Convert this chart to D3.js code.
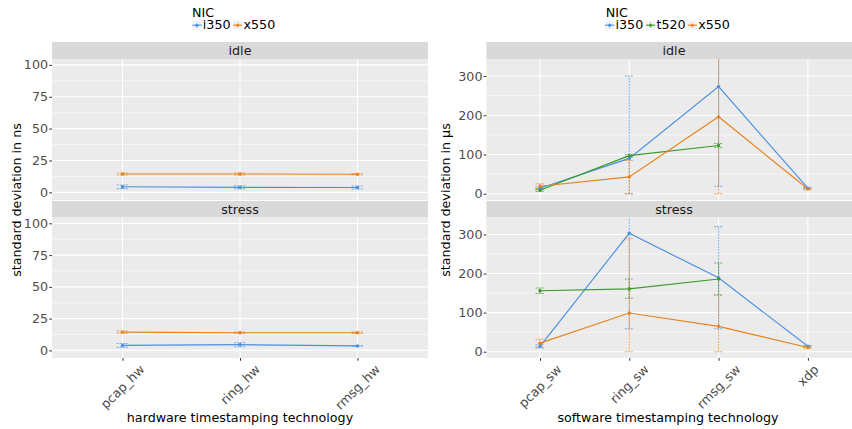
<!DOCTYPE html>
<html><head><meta charset="utf-8">
<script src="https://cdn.jsdelivr.net/npm/d3@7"></script>
<style>body{margin:0;background:#fff} text{font-family:"DejaVu Sans",sans-serif}</style>
</head><body><svg id="c" width="852" height="429"></svg>
<script>
const hwCategories = ["pcap_hw","ring_hw","rmsg_hw"];
const swCategories = ["pcap_sw","ring_sw","rmsg_sw","xdp"];
const facets = ["idle","stress"];
const hwNics = ["i350","x550"];
const swNics = ["i350","t520","x550"];
const hwYTicks = [0,25,50,75,100];
const swYTicks = [0,100,200,300];

// hardware timestamping (ns): mean, lower, upper
const hwIdleI350Mean = [4.4, 3.9, 3.8];
const hwIdleI350Lo   = [2.9, 2.6, 2.6];
const hwIdleI350Hi   = [5.8, 5.2, 5.0];
const hwIdleX550Mean = [14.4, 14.4, 14.2];
const hwIdleX550Lo   = [13.6, 13.6, 13.6];
const hwIdleX550Hi   = [15.2, 15.2, 14.8];
const hwStressI350Mean = [3.9, 4.5, 3.5];
const hwStressI350Lo   = [2.4, 2.8, 3.2];
const hwStressI350Hi   = [5.4, 6.0, 3.8];
const hwStressX550Mean = [14.4, 13.9, 13.9];
const hwStressX550Lo   = [13.6, 13.4, 13.4];
const hwStressX550Hi   = [15.2, 14.4, 14.4];

// software timestamping (µs): mean, lower, upper (null = no data)
const swIdleI350Mean = [14, 90, 273, 14];
const swIdleI350Lo   = [11, 0, 19, 12];
const swIdleI350Hi   = [17, 300, 527, 16];
const swIdleT520Mean = [9, 97, 123, null];
const swIdleT520Lo   = [6, 94, 118, null];
const swIdleT520Hi   = [12, 100, 128, null];
const swIdleX550Mean = [19, 43, 196, 12];
const swIdleX550Lo   = [13, 0, 0, 10];
const swIdleX550Hi   = [25, 85, 400, 14];
const swStressI350Mean = [14, 303, 189, 14];
const swStressI350Lo   = [10, 59, 59, 12];
const swStressI350Hi   = [18, 547, 320, 16];
const swStressT520Mean = [156, 161, 186, null];
const swStressT520Lo   = [149, 137, 145, null];
const swStressT520Hi   = [163, 186, 227, null];
const swStressX550Mean = [22, 99, 65, 11];
const swStressX550Lo   = [12, 0, 0, 9];
const swStressX550Hi   = [32, 289, 145, 13];

const colors = {i350:"#4A90E2", t520:"#3C9A2C", x550:"#E8821E"};

const hwSeries = {
  idle: {i350:[hwIdleI350Mean,hwIdleI350Lo,hwIdleI350Hi], x550:[hwIdleX550Mean,hwIdleX550Lo,hwIdleX550Hi]},
  stress: {i350:[hwStressI350Mean,hwStressI350Lo,hwStressI350Hi], x550:[hwStressX550Mean,hwStressX550Lo,hwStressX550Hi]}
};
const swSeries = {
  idle: {i350:[swIdleI350Mean,swIdleI350Lo,swIdleI350Hi], t520:[swIdleT520Mean,swIdleT520Lo,swIdleT520Hi], x550:[swIdleX550Mean,swIdleX550Lo,swIdleX550Hi]},
  stress: {i350:[swStressI350Mean,swStressI350Lo,swStressI350Hi], t520:[swStressT520Mean,swStressT520Lo,swStressT520Hi], x550:[swStressX550Mean,swStressX550Lo,swStressX550Hi]}
};

const FS = 12.7;
const svg = d3.select("#c");
const stripRows = [{top:42, bottom:59}, {top:201, bottom:217.5}];
const panelRows = [{top:59, bottom:200}, {top:217.5, bottom:358}];

function drawChart(cfg){
  const {x0, x1, cats, nics, series, yDomain, yTicks, yMinor, clipId} = cfg;
  const n = cats.length;
  const unit = cfg.unit;
  const x = d3.scalePoint().domain(cats).range([x0 + 0.6*unit, x0 + 0.6*unit + (n-1)*unit]);
  const capW = 0.1*unit;
  facets.forEach((f, fi) => {
    const pr = panelRows[fi], sr = stripRows[fi];
    const y = d3.scaleLinear().domain(yDomain).range([pr.bottom, pr.top]);
    // strip
    svg.append("rect").attr("x", x0).attr("y", sr.top).attr("width", x1-x0).attr("height", sr.bottom-sr.top).attr("fill", "#D9D9D9");
    svg.append("text").attr("x", cfg.stripX).attr("y", (sr.top+sr.bottom)/2).attr("text-anchor","middle")
      .attr("dominant-baseline","central").attr("font-size",FS).attr("fill","#1A1A1A").text(f);
    // panel
    svg.append("rect").attr("x", x0).attr("y", pr.top).attr("width", x1-x0).attr("height", pr.bottom-pr.top).attr("fill", "#EBEBEB");
    const cid = clipId + fi;
    svg.append("clipPath").attr("id", cid).append("rect").attr("x", x0).attr("y", pr.top).attr("width", x1-x0).attr("height", pr.bottom-pr.top);
    const g = svg.append("g").attr("clip-path", `url(#${cid})`);
    yMinor.forEach(v => g.append("line").attr("x1",x0).attr("x2",x1).attr("y1",y(v)).attr("y2",y(v)).attr("stroke","#fff").attr("stroke-width",0.55));
    yTicks.forEach(v => g.append("line").attr("x1",x0).attr("x2",x1).attr("y1",y(v)).attr("y2",y(v)).attr("stroke","#fff").attr("stroke-width",1.1));
    cats.forEach(c => g.append("line").attr("x1",x(c)).attr("x2",x(c)).attr("y1",pr.top).attr("y2",pr.bottom).attr("stroke","#fff").attr("stroke-width",1.1));
    // y axis
    const ya = svg.append("g").attr("transform", `translate(${x0},0)`)
      .call(d3.axisLeft(y).tickValues(yTicks).tickSize(2.75).tickPadding(1.2).tickFormat(d3.format("d")));
    ya.select(".domain").remove();
    ya.selectAll("line").attr("stroke","#333333");
    ya.selectAll("text").attr("font-size",FS).attr("fill","#4D4D4D").attr("font-family","DejaVu Sans");
    // lines
    nics.forEach(nic => {
      const [m] = series[f][nic];
      const pts = cats.map((c,i)=>({c, v:m[i]})).filter(d=>d.v!==null);
      g.append("path").datum(pts).attr("fill","none").attr("stroke",colors[nic]).attr("stroke-width",1.15)
        .attr("d", d3.line().x(d=>x(d.c)).y(d=>y(d.v)));
    });
    // error bars
    nics.forEach(nic => {
      const [m, lo, hi] = series[f][nic];
      cats.forEach((c,i) => {
        if (m[i]===null) return;
        const eg = g.append("g").attr("stroke", colors[nic]).attr("stroke-width",1.1).attr("opacity",0.7).attr("stroke-dasharray","2,1");
        eg.append("line").attr("x1",x(c)).attr("x2",x(c)).attr("y1",y(lo[i])).attr("y2",y(hi[i]));
        [lo[i],hi[i]].forEach(v => eg.append("line").attr("x1",x(c)-capW/2).attr("x2",x(c)+capW/2).attr("y1",y(v)).attr("y2",y(v)));
      });
    });
    // points
    nics.forEach(nic => {
      const [m] = series[f][nic];
      cats.forEach((c,i) => {
        if (m[i]===null) return;
        g.append("circle").attr("cx",x(c)).attr("cy",y(m[i])).attr("r",1.7).attr("fill",colors[nic]);
      });
    });
    // x axis ticks on bottom panel
    if (fi === 1) {
      const xa = svg.append("g").attr("transform", `translate(0,${pr.bottom})`)
        .call(d3.axisBottom(x).tickSize(2.75).tickFormat(""));
      xa.select(".domain").remove();
      xa.selectAll("line").attr("stroke","#333333");
      cats.forEach(c => {
        const t = svg.append("text").attr("font-size",FS).attr("fill","#4D4D4D").attr("text-anchor","middle")
          .attr("dominant-baseline","central").text(c);
        const L = t.node().getComputedTextLength();
        const cy = 363 + (L + 11.5) * 0.7071 / 2;
        t.attr("transform", `translate(${x(c)},${cy}) rotate(-45)`);
      });
    }
  });
  // axis titles
  svg.append("text").attr("x", cfg.xTitleX).attr("y", 421.5).attr("text-anchor","middle").attr("font-size",FS).attr("fill","#000").text(cfg.xTitle);
  svg.append("text").attr("transform", `translate(${cfg.yTitleX},200) rotate(-90)`).attr("text-anchor","middle").attr("font-size",FS).attr("fill","#000").text(cfg.yTitle);
  // legend
  svg.append("text").attr("x", cfg.legendX).attr("y", 17.3).attr("font-size",FS).attr("fill","#000").text("NIC");
  nics.forEach((nic, i) => {
    const kx = cfg.keyXs[i];
    svg.append("rect").attr("x",kx).attr("y",20.5).attr("width",9.3).attr("height",9.3).attr("fill","#F2F2F2");
    svg.append("line").attr("x1",kx).attr("x2",kx+9.3).attr("y1",25.2).attr("y2",25.2).attr("stroke",colors[nic]).attr("stroke-width",1.1);
    svg.append("line").attr("x1",kx+4.65).attr("x2",kx+4.65).attr("y1",22.5).attr("y2",28).attr("stroke",colors[nic]).attr("stroke-width",0.8).attr("opacity",0.5);
    svg.append("circle").attr("cx",kx+4.65).attr("cy",25.2).attr("r",1.5).attr("fill",colors[nic]);
    svg.append("text").attr("x",kx+10.5).attr("y",29.2).attr("font-size",FS).attr("fill","#000").text(nic);
  });
}

drawChart({x0:52, x1:428, unit:117.5, cats:hwCategories, nics:hwNics, series:hwSeries,
  yDomain:[-6,104.6], yTicks:hwYTicks, yMinor:[12.5,37.5,62.5,87.5], clipId:"hw",
  xTitle:"hardware timestamping technology", xTitleX:240, yTitle:"standard deviation in ns", yTitleX:21,
  legendX:192, keyXs:[192.3,233], stripX:240});
drawChart({x0:486.4, x1:862, unit:89.3, cats:swCategories, nics:swNics, series:swSeries,
  yDomain:[-16,343.4], yTicks:swYTicks, yMinor:[50,150,250], clipId:"sw",
  xTitle:"software timestamping technology", xTitleX:668, yTitle:"standard deviation in µs", yTitleX:450,
  legendX:605.7, keyXs:[605,646,687.7], stripX:674});
</script></body></html>
